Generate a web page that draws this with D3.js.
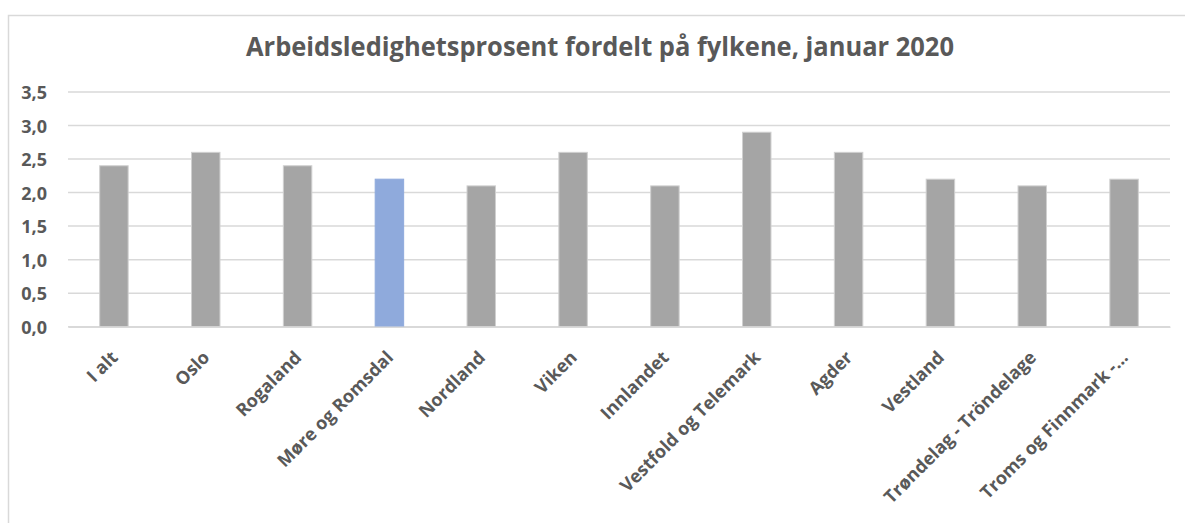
<!DOCTYPE html>
<html><head><meta charset="utf-8">
<script src="https://cdn.jsdelivr.net/npm/d3@7"></script>
<style>body{margin:0;background:#fff;} svg{display:block;}</style>
</head><body><svg id="c" width="1185" height="523"></svg>
<script>
const title = "Arbeidsledighetsprosent fordelt på fylkene, januar 2020";
const categories = ["I alt","Oslo","Rogaland","Møre og Romsdal","Nordland","Viken","Innlandet","Vestfold og Telemark","Agder","Vestland","Trøndelag - Tröndelage","Troms og Finnmark -…"];
const values = [2.4,2.6,2.4,2.2,2.1,2.6,2.1,2.9,2.6,2.2,2.1,2.2];
const highlight = ["Møre og Romsdal"];
const yTicks = [0,0.5,1,1.5,2,2.5,3,3.5];

const svg = d3.select("#c");
const font = "'Open Sans', 'Noto Sans', sans-serif";
const txt = "#595959";

svg.append("rect").attr("x",8.5).attr("y",15.5).attr("width",1200).attr("height",600)
  .attr("fill","#fff").attr("stroke","#d9d9d9").attr("stroke-width",1.5);

const x = d3.scaleBand().domain(categories).range([68,1170]).paddingInner(0.69).paddingOuter(0.345);
const y = d3.scaleLinear().domain([0,3.5]).range([326.7,92]);

svg.append("g").selectAll("line").data(yTicks).join("line")
  .attr("x1",68).attr("x2",1170).attr("y1",d=>y(d)).attr("y2",d=>y(d))
  .attr("stroke","#d9d9d9").attr("stroke-width",1.5);

const fmt = d => d3.format(".1f")(d).replace(".",",");
const yAxis = d3.axisLeft(y).tickValues(yTicks).tickFormat(fmt).tickSize(0).tickPadding(0);
const ya = svg.append("g").attr("transform","translate(47,0)").call(yAxis);
ya.select(".domain").remove();
ya.attr("font-family",null).attr("font-size",null);
ya.selectAll("text").attr("x",0).attr("text-anchor","end").attr("dy","0.36em")
  .style("font-family",font).style("font-size","18px").style("font-weight","bold").attr("fill",txt);

svg.append("g").selectAll("rect").data(categories).join("rect")
  .attr("x",(d)=>x(d)).attr("width",x.bandwidth())
  .attr("y",(d,i)=>y(values[i])).attr("height",(d,i)=>y(0)-y(values[i]))
  .attr("fill",d=>highlight.includes(d)?"#8faadc":"#a5a5a5")
  .attr("stroke",d=>highlight.includes(d)?"#8faadc":"#d0d0d0").attr("stroke-width",1);

const xAxis = d3.axisBottom(x).tickSize(0).tickPadding(0);
const xa = svg.append("g").attr("transform",`translate(0,${y(0)})`).call(xAxis);
xa.attr("font-family",null).attr("font-size",null);
xa.select(".domain").attr("stroke","#d9d9d9").attr("stroke-width",1.5);
xa.selectAll("text")
  .style("font-family",font).style("font-size","18px").style("font-weight","bold").attr("fill",txt)
  .attr("text-anchor","end").attr("dy",null).attr("y",0)
  .attr("transform","translate(5,32) rotate(-45)");

svg.append("text").attr("x",600).attr("y",56).attr("text-anchor","middle")
  .style("font-family",font).style("font-size","27px").style("font-weight","bold").attr("fill",txt)
  .attr("textLength",708).attr("lengthAdjust","spacingAndGlyphs").text(title);
</script></body></html>
